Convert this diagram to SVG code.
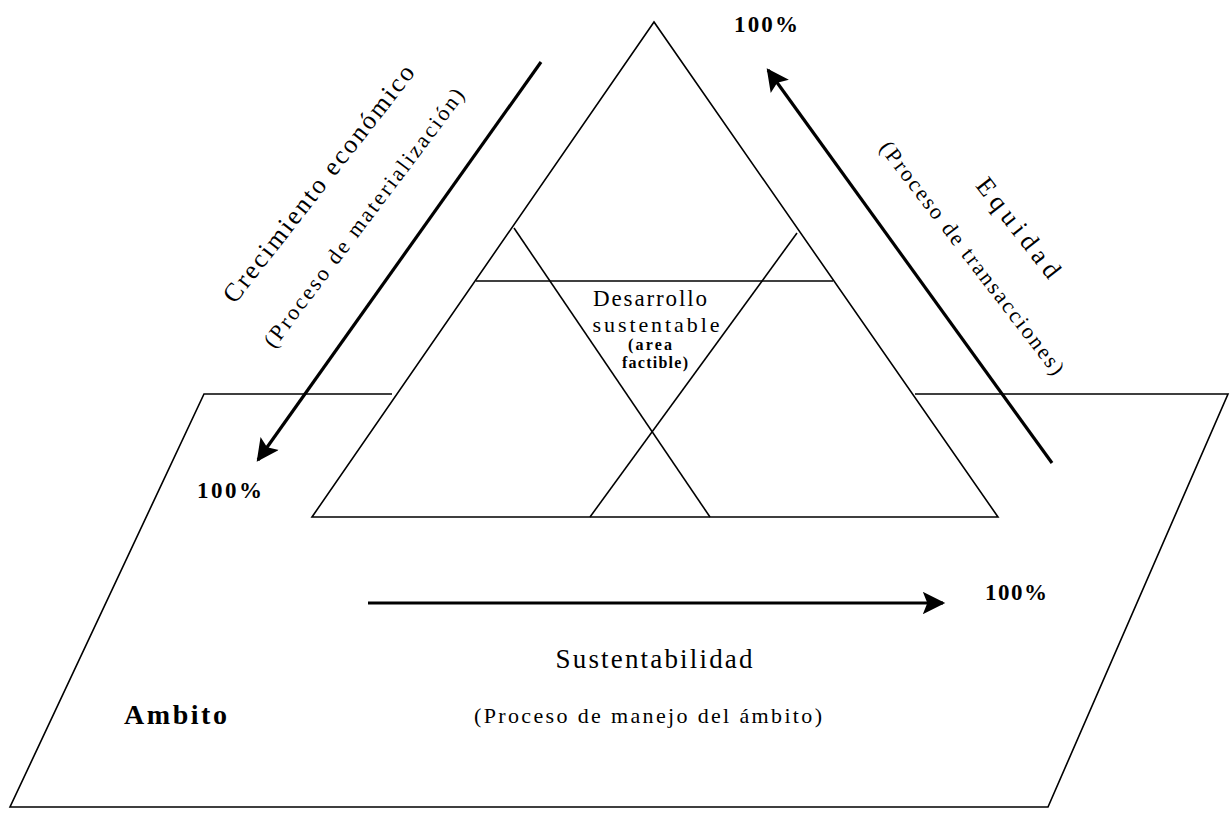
<svg xmlns="http://www.w3.org/2000/svg" width="1230" height="813" viewBox="0 0 1230 813">
<style>
.ln{fill:none;stroke:#000;stroke-width:1.6}
.ar{fill:none;stroke:#000;stroke-width:3.2;marker-end:url(#ah)}
text{font-family:"Liberation Serif","DejaVu Serif",serif;fill:#000}
.t100{font-size:23px;font-weight:bold}
</style>
<defs>
<marker id="ah" viewBox="0 0 10 10" refX="9" refY="5" markerWidth="10" markerHeight="7" markerUnits="strokeWidth" orient="auto">
<path d="M0,0 L10,5 L0,10 L2,5 Z" fill="#000"/>
</marker>
</defs>
<rect width="1230" height="813" fill="#fff"/>
<g id="ambito">
<path class="ln" d="M392,394 L204,394 L10,807 L1048,807 L1228,394 L915,394"/>
<text x="124" y="724" font-size="28" font-weight="bold" textLength="103">Ambito</text>
</g>
<g id="triangulo">
<path class="ln" d="M654,22 L312,517 L998,517 Z"/>
<line class="ln" x1="476" y1="281" x2="833" y2="281"/>
<line class="ln" x1="514" y1="228" x2="710" y2="517"/>
<line class="ln" x1="797" y1="233" x2="590" y2="517"/>
</g>
<g id="desarrollo">
<text x="650" y="306" font-size="23" text-anchor="middle" textLength="114">Desarrollo</text>
<text x="656" y="332" font-size="22" text-anchor="middle" textLength="127">sustentable</text>
<text x="650" y="350" font-size="16" font-weight="bold" text-anchor="middle" textLength="44">(area</text>
<text x="655" y="368" font-size="16" font-weight="bold" text-anchor="middle" textLength="66">factible)</text>
</g>
<g id="crecimiento">
<text transform="translate(319,184) rotate(-52)" y="8" font-size="26" text-anchor="middle" textLength="294">Crecimiento económico</text>
<text transform="translate(364,218) rotate(-53)" y="7" font-size="22" text-anchor="middle" textLength="318">(Proceso de materialización)</text>
<text class="t100" x="197" y="498" textLength="65">100%</text>
</g>
<g id="equidad">
<text transform="translate(1018,228) rotate(52)" y="8" font-size="26" text-anchor="middle" textLength="120">Equidad</text>
<text transform="translate(972,258) rotate(52.5)" y="7" font-size="22" text-anchor="middle" textLength="288">(Proceso de transacciones)</text>
<text class="t100" x="734" y="32" textLength="64">100%</text>
</g>
<g id="sustentabilidad">
<text x="654" y="668" font-size="27" text-anchor="middle" textLength="197">Sustentabilidad</text>
<text x="648" y="723" font-size="22" text-anchor="middle" textLength="348">(Proceso de manejo del ámbito)</text>
<text class="t100" x="985" y="600" textLength="62">100%</text>
</g>
<g id="conectores">
<line class="ar" x1="541" y1="62" x2="258" y2="460"/>
<line class="ar" x1="1052" y1="463" x2="768" y2="70"/>
<line class="ar" x1="368" y1="603" x2="943" y2="603"/>
</g>
</svg>
